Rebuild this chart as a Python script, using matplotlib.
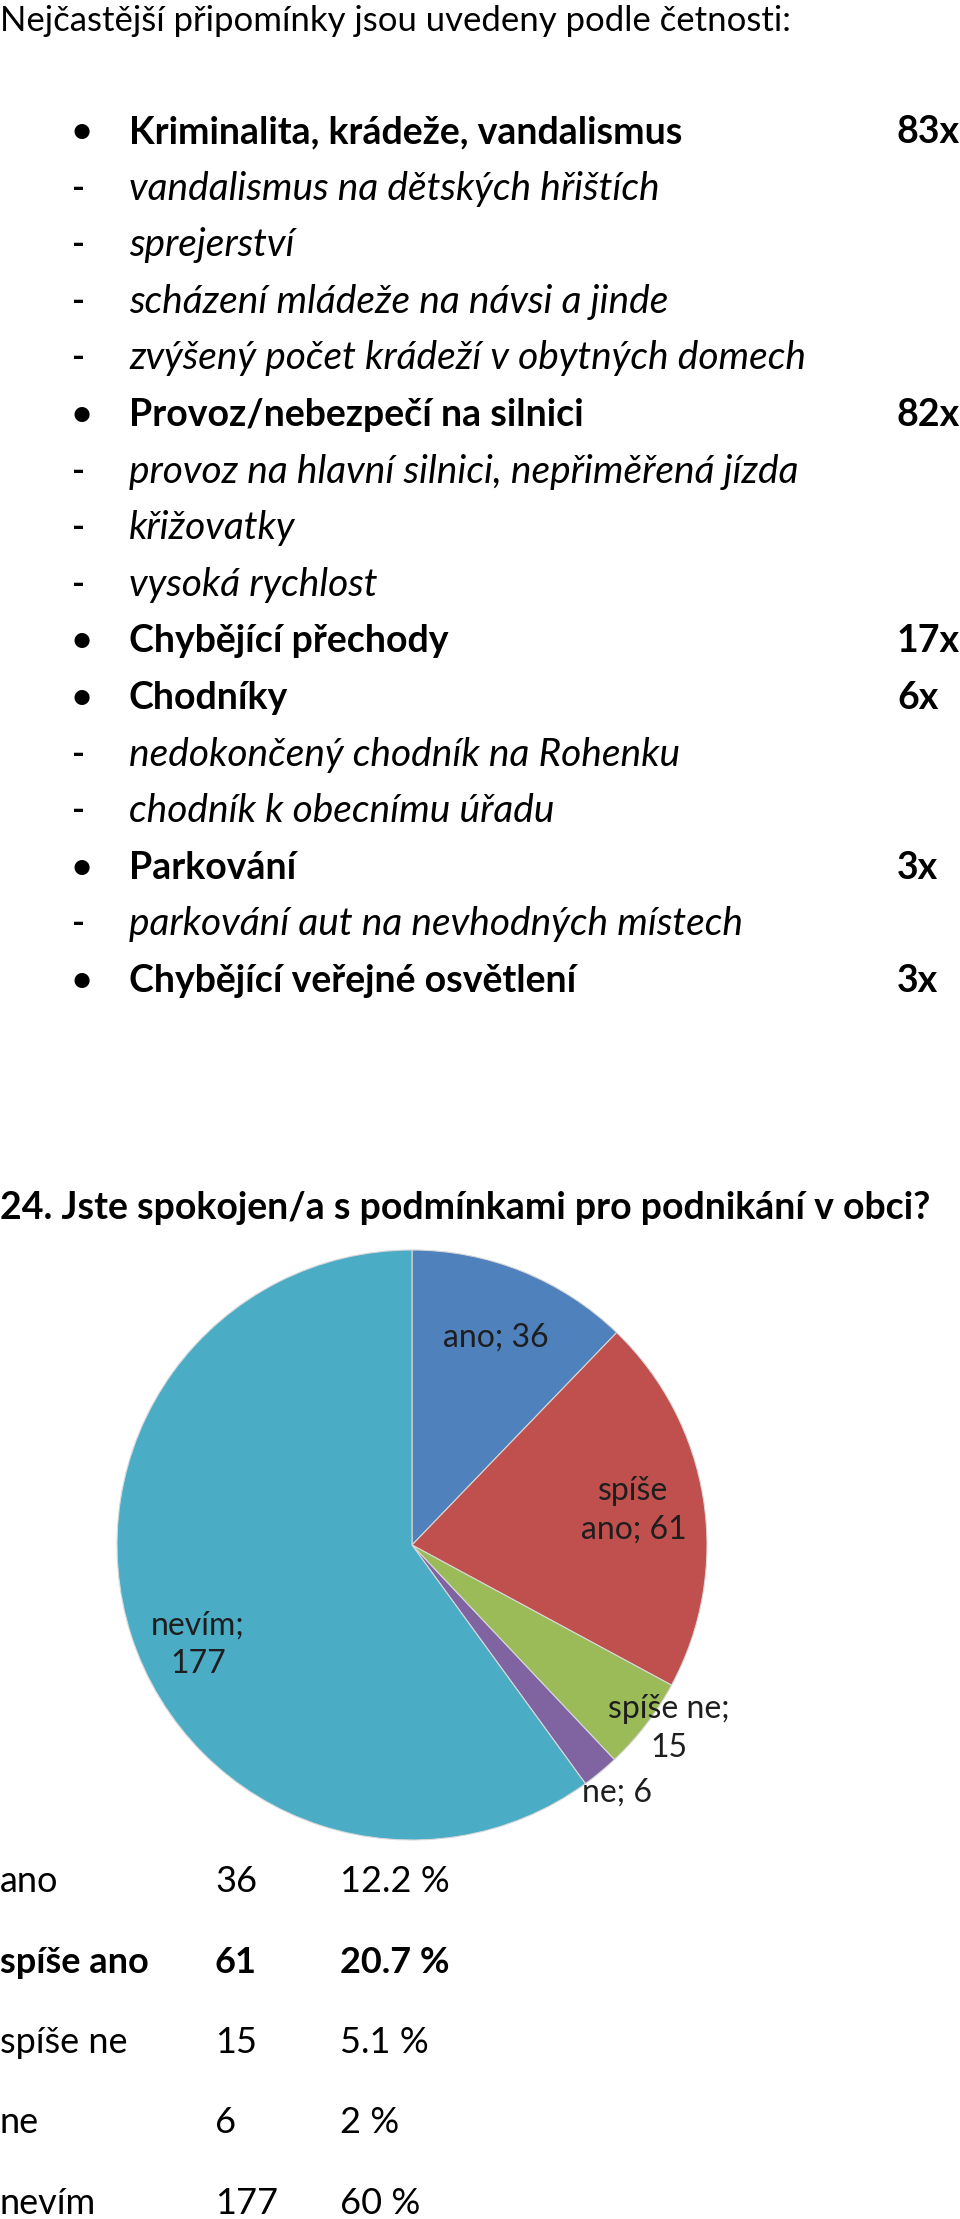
import numpy as np
import matplotlib
matplotlib.use("Agg")
import matplotlib.pyplot as plt

plt.rcParams["font.family"] = ["Lato", "DejaVu Sans"]

# --- seznam připomínek ---
intro = "Nejčastější připomínky jsou uvedeny podle četnosti:"
items = [
    ("•", "Kriminalita, krádeže, vandalismus", "83x"),
    ("-", "vandalismus na dětských hřištích", ""),
    ("-", "sprejerství", ""),
    ("-", "scházení mládeže na návsi a jinde", ""),
    ("-", "zvýšený počet krádeží v obytných domech", ""),
    ("•", "Provoz/nebezpečí na silnici", "82x"),
    ("-", "provoz na hlavní silnici, nepřiměřená jízda", ""),
    ("-", "křižovatky", ""),
    ("-", "vysoká rychlost", ""),
    ("•", "Chybějící přechody", "17x"),
    ("•", "Chodníky", "6x"),
    ("-", "nedokončený chodník na Rohenku", ""),
    ("-", "chodník k obecnímu úřadu", ""),
    ("•", "Parkování", "3x"),
    ("-", "parkování aut na nevhodných místech", ""),
    ("•", "Chybějící veřejné osvětlení", "3x"),
]

# --- otázka 24 ---
question = "24. Jste spokojen/a s podmínkami pro podnikání v obci?"
answers = ["ano", "spíše ano", "spíše ne", "ne", "nevím"]
counts = [36, 61, 15, 6, 177]
percents = ["12.2 %", "20.7 %", "5.1 %", "2 %", "60 %"]
pie_labels = ["ano; 36", "spíše\nano; 61", "spíše ne;\n15", "ne; 6", "nevím;\n177"]
colors = ["#4F81BD", "#C0504D", "#9BBB59", "#8064A2", "#4BACC6"]

W, H = 960, 2219
fig = plt.figure(figsize=(W / 100, H / 100), dpi=100)
page = fig.add_axes([0, 0, 1, 1])
page.set_xlim(0, W)
page.set_ylim(H, 0)
page.axis("off")

fs_reg, fs_bold, fs_it = 25, 27, 28
page.text(0, 21, intro, fontsize=fs_reg, va="center", ha="left")

y0, dy = 132, 56.6
for i, (mark, text, cnt) in enumerate(items):
    y = y0 + i * dy
    bold = mark == "•"
    page.text(72, y, mark, fontsize=fs_reg, va="center", ha="left",
              fontweight="bold")
    if bold:
        page.text(129, y, text, fontsize=fs_bold, va="center", ha="left",
                  fontweight="bold")
    else:
        page.text(129, y, text, fontsize=fs_it, va="center", ha="left",
                  fontstyle="italic")
    if cnt:
        page.text(897, y, cnt, fontsize=fs_bold, va="center", ha="left",
                  fontweight="bold")

page.text(0, 1208, question, fontsize=fs_bold, va="center", ha="left",
          fontweight="bold")

# tabulka pod grafem
ty0, tdy = 1882, 80.3
for i, (a, c, p) in enumerate(zip(answers, counts, percents)):
    y = ty0 + i * tdy
    w = "bold" if a == "spíše ano" else "normal"
    page.text(0, y, a, fontsize=26, va="center", ha="left", fontweight=w)
    page.text(215, y, str(c), fontsize=26, va="center", ha="left", fontweight=w)
    page.text(340, y, p, fontsize=26, va="center", ha="left", fontweight=w)

# --- koláčový graf ---
cx, cy, r = 412, 1545, 295
ax = fig.add_axes([(cx - r) / W, 1 - (cy + r) / H, 2 * r / W, 2 * r / H])
wedges, _ = ax.pie(counts, colors=colors, startangle=90, counterclock=False,
                   radius=1, wedgeprops=dict(linewidth=0.8, edgecolor="#d8d8d8"))
ax.set_xlim(-1, 1)
ax.set_ylim(-1, 1)
ax.set_aspect("equal")
ax.axis("off")

label_r = [0.76, 0.76, 1.07, 1.09, 0.80]
label_turn = [0, 0, 2, 0, 7]
for wdg, lab, lr, turn in zip(wedges, pie_labels, label_r, label_turn):
    mid = np.deg2rad((wdg.theta1 + wdg.theta2) / 2 + turn)
    ax.text(lr * np.cos(mid), lr * np.sin(mid), lab, fontsize=23,
            color="#1e1e1e", ha="center", va="center", linespacing=1.35)

fig.savefig("out.png", dpi=100)
